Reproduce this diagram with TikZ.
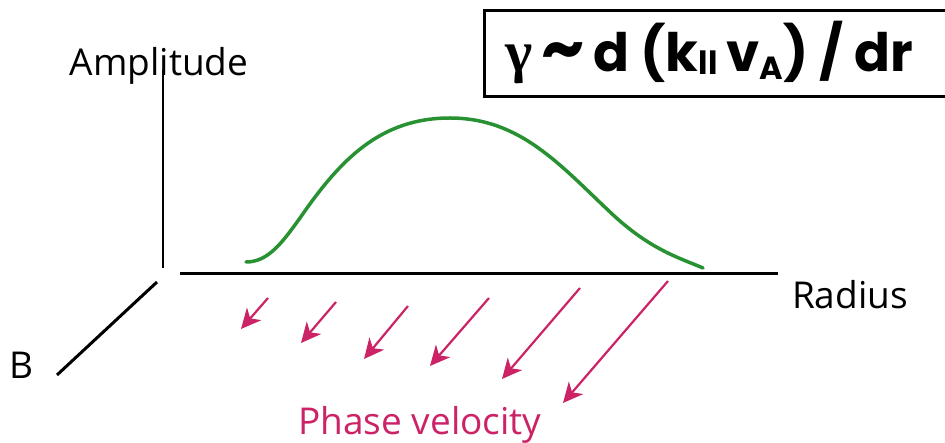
\documentclass[tikz,border=0pt]{standalone}
\usepackage{fontspec}
\setmainfont{Open Sans}
\newfontfamily\eqfont{Poppins}
\newfontfamily\greekfont{Liberation Serif}
\usepackage{tikz}
\usetikzlibrary{arrows.meta,positioning}
\definecolor{phasecol}{RGB}{204,34,102}
\definecolor{curvegreen}{RGB}{40,145,50}

\begin{document}
\begin{tikzpicture}[x=1pt, y=-1pt, thick,
        axis/.style={draw, black, line width=3pt},
        label/.style={inner sep=0pt, anchor=base, font=\fontsize{37}{37}\selectfont},
        phase/.style={draw, phasecol, line width=2.2pt, -{Stealth[length=20pt, width=19pt, inset=6pt]}},
        wave/.style={draw, curvegreen, line width=3.5pt, line cap=round}]
    \useasboundingbox (0,0) rectangle (945,443);

    % axes
    \coordinate (origin) at (163,268);
    \coordinate (atop) at (163,70);
    \coordinate (rleft) at (180,274);
    \coordinate (rright) at (778,274);
    \coordinate (bin) at (157,282);
    \coordinate (bout) at (57,375);
    \path [axis, line width=2.5pt] (origin) -- (atop);
    \path [axis] (rleft) -- (rright);
    \path [axis] (bin) -- (bout);

    \node [label] (amp) at (159,76) {Amplitude};
    \node [label] (rad) at (850,309) {Radius};
    \node [label] (b) at (21,379) {B};
    \node [label, text=phasecol] (vel) at (420,435) {Phase velocity};

    % wave packet
    \path [wave] (246,262) .. controls (268,262) and (282,243) .. (300,218)
        .. controls (340,160) and (380,118) .. (450,118)
        .. controls (520,118) and (560,165) .. (610,212)
        .. controls (650,250) and (680,258) .. (703,268);

    % phase velocity arrows
    \foreach \sx/\sy/\tx/\ty [count=\i] in {268/298/241/329, 336/302/301/343, 408/306/364/359,
        489/298/430/366, 580/288/502/379, 668/281/563/403} {
        \coordinate (s\i) at (\sx,\sy);
        \coordinate (t\i) at (\tx,\ty);
        \path [phase] (s\i) -- (t\i);
    }

    % growth rate box
    \draw [line width=3pt] (484,11) rectangle (990,97);
    \node [inner sep=0pt, anchor=base west, font=\eqfont\bfseries\fontsize{53}{53}\selectfont] (eq) at (505,72)
        {{\greekfont\bfseries\fontsize{58}{58}\selectfont γ}\,{\fontsize{68}{68}\selectfont\textasciitilde}\,d (k\raisebox{-3pt}{\fontsize{32}{32}\selectfont ll}\,v\raisebox{-8pt}{\fontsize{32}{32}\selectfont A}) / dr};
\end{tikzpicture}
\end{document}
